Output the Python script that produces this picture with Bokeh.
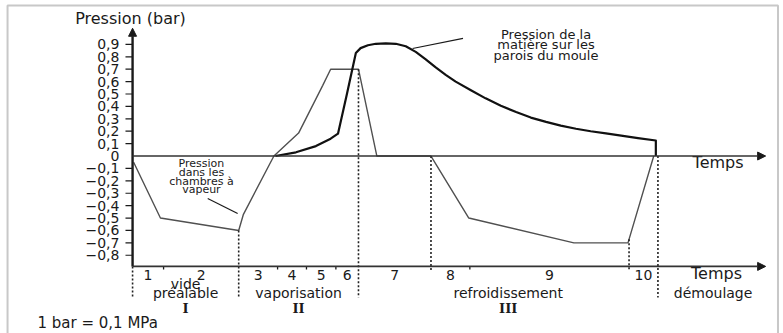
import numpy as np
from bokeh.plotting import figure
from bokeh.models import Range1d, Arrow, NormalHead
from bokeh.core.properties import value
from bokeh.embed import file_html
from bokeh.resources import INLINE

# ---------------- data (time in arbitrary units, pressure in bar) ----------------
chambre_t = [0.2, 5.3, 20.2, 21.1, 26.9, 31.6, 36.2, 37.7, 43.0, 46.5, 56.8, 64.0, 84.0, 94.3, 99.2]
chambre_p = [-0.05, -0.50, -0.60, -0.47, 0.0, 0.185, 0.57, 0.70, 0.70, 0.0, 0.0, -0.50, -0.70, -0.70, 0.0]

matiere_t = [27.2, 31.1, 34.9, 37.7, 39.1, 40.8, 42.5, 43.4, 44.8, 46.3, 48.2, 50.1, 52.0, 53.9,
             55.8, 57.7, 59.6, 61.5, 64.4, 67.2, 70.1, 73.0, 75.8, 78.7, 81.5, 84.4, 87.2, 90.1,
             93.0, 96.2, 99.6, 99.6]
matiere_p = [0.0, 0.03, 0.08, 0.14, 0.18, 0.50, 0.83, 0.87, 0.893, 0.905, 0.908, 0.905, 0.885, 0.84,
             0.78, 0.715, 0.655, 0.60, 0.53, 0.465, 0.405, 0.355, 0.31, 0.275, 0.245, 0.22, 0.20, 0.183,
             0.165, 0.145, 0.125, 0.0]

phase_bounds = [0.0, 5.9, 20.2, 27.6, 33.1, 38.7, 43.0, 56.8, 64.2, 94.5, 100.0]
phase_labels = ["1", "2", "3", "4", "5", "6", "7", "8", "9", "10"]

stage_bounds = [0.0, 20.2, 43.0, 100.0, 121.0]
stage_names = ["vide\npréalable", "vaporisation", "refroidissement", "démoulage"]
stage_roman = ["I", "II", "III", ""]

y_ticks = [-0.8, -0.7, -0.6, -0.5, -0.4, -0.3, -0.2, -0.1, 0.0, 0.1, 0.2, 0.3, 0.4, 0.5, 0.6, 0.7, 0.8, 0.9]

# ---------------- figure ----------------
FONT = value("DejaVu Sans")
INK = "#1a1a1a"
p = figure(width=783, height=333, output_backend="svg", toolbar_location=None,
           x_axis_type=None, y_axis_type=None,
           x_range=Range1d(-25.14, 123.9), y_range=Range1d(-1.431, 1.254))
p.min_border = 0
p.outline_line_color = None
p.background_fill_color = "white"
p.border_fill_color = "white"

# light frame around the drawing
p.quad(left=[-23.8], right=[122.85], top=[1.214], bottom=[-1.6], fill_color=None,
       line_color="#c8c8c8", line_width=2)

PHASE_AXIS = -0.89
AXIS_END = 120.5
LONG_BOTTOM = -1.14
SHORT_BOTTOM = -0.92

head = dict(size=8, fill_color=INK, line_color=INK)
p.add_layout(Arrow(end=NormalHead(**head), x_start=0, y_start=PHASE_AXIS,
                   x_end=0, y_end=1.03, line_width=2.4, line_color=INK))
p.add_layout(Arrow(end=NormalHead(**head), x_start=0, y_start=0,
                   x_end=AXIS_END, y_end=0, line_width=1.4, line_color="#333333"))
p.add_layout(Arrow(end=NormalHead(**head), x_start=0, y_start=PHASE_AXIS,
                   x_end=AXIS_END, y_end=PHASE_AXIS, line_width=1.6, line_color="#333333"))

# y ticks and labels
nz = [v for v in y_ticks if v != 0]
p.segment(x0=[-1.35] * len(nz), y0=nz, x1=[0] * len(nz), y1=nz, line_color=INK, line_width=1.2)
tick_text = ["0" if v == 0 else f"{v:.1f}".replace(".", ",").replace("-", "\u2212") for v in y_ticks]
p.text(x=[-2.5] * len(y_ticks), y=y_ticks, text=tick_text, text_align="right", text_baseline="middle",
       text_font=FONT, text_font_size=value("14px"), text_color=INK)
p.text(x=[-0.4], y=[1.109], text=["Pression (bar)"], text_align="center", text_baseline="middle",
       text_font=FONT, text_font_size=value("16px"), text_color=INK)

# curves
p.line(chambre_t, chambre_p, line_color="#505050", line_width=1.4)
p.line(matiere_t, matiere_p, line_color="#111111", line_width=2.2, line_join="round")

# vertical dotted markers
long_marks = stage_bounds[:4]
short_marks = [phase_bounds[7], phase_bounds[9]]
tops_long = [float(np.interp(t, chambre_t, chambre_p)) for t in long_marks]
tops_long[0] = PHASE_AXIS
tops_short = [float(np.interp(t, chambre_t, chambre_p)) for t in short_marks]
p.segment(x0=long_marks, y0=tops_long, x1=long_marks, y1=[LONG_BOTTOM] * 4,
          line_color="#222222", line_width=1.6, line_dash="2 2")
p.segment(x0=short_marks, y0=tops_short, x1=short_marks, y1=[SHORT_BOTTOM] * 2,
          line_color="#222222", line_width=1.6, line_dash="2 2")

# small phase ticks on the lower time axis
tick_marks = [phase_bounds[i] for i in (1, 3, 4, 5, 8)]
p.segment(x0=tick_marks, y0=[PHASE_AXIS] * 5, x1=tick_marks, y1=[PHASE_AXIS - 0.025] * 5,
          line_color=INK, line_width=1.3)

# phase numbers
centers = [(a + b) / 2 for a, b in zip(phase_bounds[:-1], phase_bounds[1:])]
p.text(x=centers, y=[-0.956] * len(centers), text=phase_labels, text_align="center",
       text_baseline="middle", text_font=FONT, text_font_size=value("14px"), text_color=INK)

# stage names (multi-line handled with offsets) and roman numerals
sx, sy, st, so = [], [], [], []
for (a, b), name in zip(zip(stage_bounds[:-1], stage_bounds[1:]), stage_names):
    lines = name.split("\n")
    for i, ln in enumerate(lines):
        sx.append((a + b) / 2)
        sy.append(-1.105)
        st.append(ln)
        so.append(-(len(lines) - 1 - i) * 9.5)
p.text(x=sx, y=sy, text=st, y_offset=so, text_align="center", text_baseline="alphabetic",
       text_font=FONT, text_font_size=value("14px"), text_color=INK)
rc = [(a + b) / 2 for a, b in zip(stage_bounds[:-1], stage_bounds[1:])]
p.text(x=rc, y=[-1.232] * len(rc), text=stage_roman, text_align="center", text_baseline="middle",
       text_font=value("DejaVu Serif"), text_font_style="bold", text_font_size=value("13px"),
       text_color=INK)

# axis names
p.text(x=[106.6, 106.3], y=[-0.052, -0.948], text=["Temps", "Temps"], text_align="left",
       text_baseline="middle", text_font=FONT, text_font_size=value("16px"), text_color=INK)

# annotations
ann1 = ["Pression de la", "matière sur les", "parois du moule"]
p.text(x=[78.7] * 3, y=[0.899] * 3, text=ann1, y_offset=[-10.5, 0, 10.5], text_align="center",
       text_baseline="middle", text_font=FONT, text_font_size=value("13px"), text_color=INK)
p.segment(x0=[62.9], y0=[0.948], x1=[53.3], y1=[0.867], line_color=INK, line_width=1.2)

ann2 = ["Pression", "dans les", "chambres à", "vapeur"]
p.text(x=[13.1] * 4, y=[-0.169] * 4, text=ann2, y_offset=[-13, -4.3, 4.3, 13],
       text_align="center", text_baseline="middle", text_font=FONT, text_font_size=value("11px"),
       text_color=INK)
p.segment(x0=[14.3], y0=[-0.343], x1=[20.0], y1=[-0.464], line_color=INK, line_width=1.2)

p.text(x=[-18.1], y=[-1.343], text=["1 bar = 0,1 MPa"], text_align="left", text_baseline="middle",
       text_font=FONT, text_font_size=value("15px"), text_color=INK)

open("out.html", "w").write(file_html(p, INLINE))
